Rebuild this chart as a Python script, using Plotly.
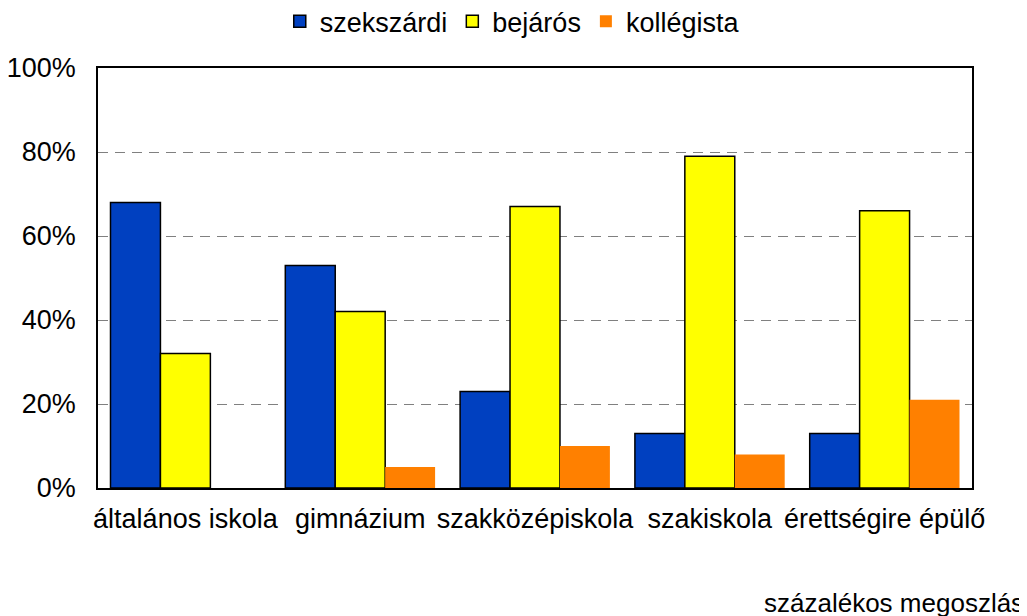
import plotly.graph_objects as go

categories = ["általános iskola", "gimnázium", "szakközépiskola", "szakiskola", "érettségire épülő"]
szekszardi = [68, 53, 23, 13, 13]
bejaros = [32, 42, 67, 79, 66]
kollegista = [0, 5, 10, 8, 21]
y_ticks = [0, 20, 40, 60, 80, 100]
y_labels = ["0%", "20%", "40%", "60%", "80%", "100%"]

FONT = "Liberation Sans, Arial, sans-serif"

fig = go.Figure()
fig.add_trace(go.Bar(name="szekszárdi", x=categories, y=szekszardi,
                     marker=dict(color="#0040C0", line=dict(color="black", width=1.5))))
fig.add_trace(go.Bar(name="bejárós", x=categories, y=bejaros,
                     marker=dict(color="#FFFF00", line=dict(color="black", width=1.5))))
fig.add_trace(go.Bar(name="kollégista", x=categories, y=kollegista,
                     marker=dict(color="#FF8000", line=dict(color="#FF8000", width=0))))

fig.update_layout(
    width=1027, height=616,
    paper_bgcolor="white", plot_bgcolor="white",
    font=dict(family=FONT, size=27, color="black"),
    barmode="group", bargap=0.143, bargroupgap=0,
    margin=dict(l=90, r=63, t=60, b=136, autoexpand=False),
    showlegend=True,
    legend=dict(orientation="h", x=0.474, xanchor="center", y=1.11, yanchor="middle",
                font=dict(size=27), itemwidth=30, traceorder="normal"),
    xaxis=dict(showline=True, linecolor="black", linewidth=1.5, mirror=True,
               ticks="", tickfont=dict(size=27), ticklabelstandoff=6),
    yaxis=dict(range=[0, 100], tickvals=y_ticks, ticktext=y_labels,
               showline=True, linecolor="black", linewidth=1.5, mirror=True,
               showgrid=True, gridcolor="#808080", griddash="10px,7px", gridwidth=1,
               ticks="", tickfont=dict(size=27), zeroline=False,
               ticklabelstandoff=15),
    annotations=[dict(text="százalékos megoszlás", xref="paper", yref="paper",
                      x=1.0616, y=-0.274, xanchor="right", yanchor="middle",
                      showarrow=False, font=dict(size=26))],
)
fig.write_html("out.html")
